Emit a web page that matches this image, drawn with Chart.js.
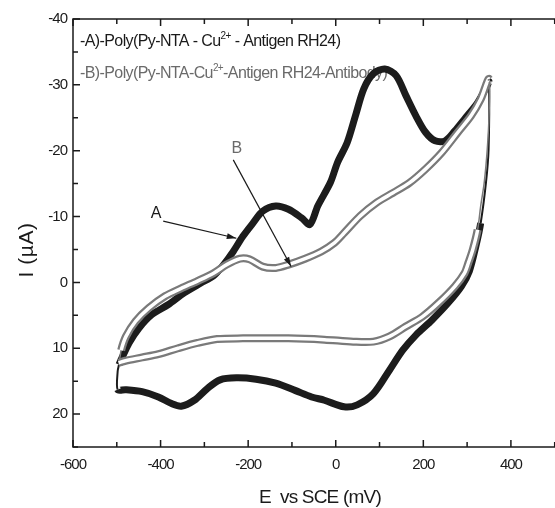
<!DOCTYPE html>
<html>
<head>
<meta charset="utf-8">
<script src="https://cdn.jsdelivr.net/npm/chart.js@4.4.1/dist/chart.umd.min.js"></script>
<style>
    html, body { margin: 0; padding: 0; background: #fff; overflow: hidden; }
    #wrap { width: 620px; height: 508px; }
</style>
</head>
<body>
<div id="wrap"><canvas id="cv" width="620" height="508"></canvas></div>
<script>
// curve A: Poly(Py-NTA - Cu2+ - Antigen RH24), forward then reverse sweep
const potentialA = [-495, -487, -472, -450, -420, -383, -346, -308, -279, -256, -234, -212, -189, -167, -137, -108, -78, -59, -41, -12, 4, 26, 45, 64, 86, 112, 138, 160, 183, 205, 227, 250, 272, 294, 324, 346,
    350, 349, 343, 331, 320, 305, 287, 257, 220, 183, 153, 123, 86, 49, 19, -26, -55, -93, -137, -182, -227, -264, -293, -323, -353, -375, -405, -442, -480, -498, -498, -495];
const currentA = [12.5, 11.3, 9.2, 7.0, 4.9, 3.4, 1.6, 0.1, -1.0, -2.7, -4.7, -7.0, -9.0, -10.8, -11.6, -11.1, -9.8, -8.8, -11.6, -15.2, -18.2, -21.2, -25.3, -29.4, -31.7, -32.4, -31.4, -28.4, -25.3, -22.8, -21.5, -21.5, -23.0, -24.8, -27.3, -29.9,
    -30.5, -20.2, -15.1, -9.0, -5.5, -1.7, 0.6, 3.1, 5.7, 8.0, 10.3, 13.3, 16.9, 18.6, 18.9, 17.9, 17.4, 16.4, 15.3, 14.7, 14.5, 14.8, 16.1, 17.9, 18.8, 18.4, 17.4, 16.6, 16.3, 16.3, 13.5, 12.5];

// curve B: Poly(Py-NTA-Cu2+-Antigen RH24-Antibody)
const potentialB = [-494, -490, -479, -457, -427, -390, -353, -316, -279, -249, -219, -197, -167, -137, -108, -70, -33, -3, 19, 56, 93, 131, 168, 205, 242, 279, 309, 331, 350,
    350, 346, 339, 331, 324, 313, 303, 294, 272, 235, 198, 160, 123, 86, 40, -26, -108, -212, -271, -316, -360, -405, -442, -480, -496];
const currentB = [12.0, 10.3, 8.2, 5.9, 3.9, 2.1, 0.9, -0.2, -1.4, -2.7, -3.6, -3.5, -2.4, -2.2, -2.7, -3.6, -4.7, -6.0, -7.5, -10.1, -12.1, -13.6, -15.1, -17.2, -19.7, -22.8, -25.3, -27.8, -30.9,
    -25.3, -20.2, -15.1, -11.6, -8.0, -5.0, -3.0, -1.4, 0.6, 3.1, 5.2, 6.7, 8.2, 9.0, 9.0, 8.7, 8.5, 8.5, 8.6, 9.2, 10.0, 10.9, 11.4, 11.9, 12.2];

// axes
const xMin = -600, xMax = 600, xStep = 100, xLabelEvery = 200;
const yMin = -40, yMax = 25, yStep = 5, yLabelEvery = 10;

// labels with arrows (data units)
const markNames = ['A', 'B'];
const markLabelE = [-410, -226];
const markLabelI = [-10.5, -20.3];
const arrowFromE = [-394, -234];
const arrowFromI = [-9.3, -18.6];
const arrowToE = [-227, -102];
const arrowToI = [-6.7, -2.4];

const FONT = "'Liberation Sans', Arial, sans-serif";
const INK = '#1a1a1a';
const GREY = '#6a6a6a';

function toPoints(xs, ys) {
    return xs.map((x, i) => ({x: x, y: ys[i]}));
}

// fast parts of the sweep (turning points) have few points in the original: draw them thin
function steep(c) {
    const dx = Math.abs(c.p1.x - c.p0.x), dy = Math.abs(c.p1.y - c.p0.y);
    return dx < 0.2 * dy;
}

const framePlugin = {
    id: 'frame',
    beforeDraw(chart) {
        chart.ctx.letterSpacing = '-1px';
    },
    beforeDatasetsDraw(chart) {
        const ctx = chart.ctx;
        ctx.save();
        ctx.letterSpacing = '-0.6px';
        ctx.textBaseline = 'alphabetic';
        ctx.textAlign = 'left';
        const rows = [
            {color: INK, x: 80, y: 46, parts: ['-A)-Poly(Py-NTA - Cu', '2+', ' - Antigen RH24)']},
            {color: GREY, x: 80, y: 78, parts: ['-B)-Poly(Py-NTA-Cu', '2+', '-Antigen RH24-Antibody)']}
        ];
        rows.forEach(r => {
            ctx.fillStyle = r.color;
            let x = r.x;
            r.parts.forEach((p, i) => {
                const sup = i === 1;
                ctx.font = (sup ? '10px ' : '16px ') + FONT;
                ctx.fillText(p, x, sup ? r.y - 7 : r.y);
                x += ctx.measureText(p).width;
            });
        });
        ctx.restore();
    },
    afterDraw(chart) {
        const ctx = chart.ctx;
        const a = chart.chartArea;
        const xs = chart.scales.x, ys = chart.scales.y;
        ctx.save();
        ctx.strokeStyle = INK;
        ctx.lineWidth = 1.5;
        ctx.strokeRect(a.left, a.top, a.right - a.left, a.bottom - a.top);
        ctx.beginPath();
        xs.ticks.forEach(t => {
            const px = xs.getPixelForValue(t.value);
            const len = t.value % xLabelEvery === 0 ? 7 : 5;
            ctx.moveTo(px, a.bottom); ctx.lineTo(px, a.bottom - len);
            ctx.moveTo(px, a.top); ctx.lineTo(px, a.top + len);
        });
        ys.ticks.forEach(t => {
            const py = ys.getPixelForValue(t.value);
            const len = t.value % yLabelEvery === 0 ? 7 : 5;
            ctx.moveTo(a.left, py); ctx.lineTo(a.left + len, py);
            ctx.moveTo(a.right, py); ctx.lineTo(a.right - len, py);
        });
        ctx.stroke();

        // axis titles
        ctx.fillStyle = INK;
        ctx.textAlign = 'center';
        ctx.textBaseline = 'middle';
        ctx.font = '19px ' + FONT;
        ctx.letterSpacing = '-0.8px';
        ctx.fillText('E  vs SCE (mV)', 320, 498);
        ctx.save();
        ctx.translate(27, 250);
        ctx.rotate(-Math.PI / 2);
        ctx.font = '21px ' + FONT;
        ctx.letterSpacing = '0.5px';
        ctx.fillText('I (µA)', 0, 0);
        ctx.restore();

        // labels A / B with arrows
        ctx.letterSpacing = '0px';
        ctx.font = '16px ' + FONT;
        ctx.lineWidth = 1.2;
        markNames.forEach((name, i) => {
            ctx.fillStyle = i === 0 ? INK : GREY;
            ctx.fillText(name, xs.getPixelForValue(markLabelE[i]), ys.getPixelForValue(markLabelI[i]));
            const x0 = xs.getPixelForValue(arrowFromE[i]), y0 = ys.getPixelForValue(arrowFromI[i]);
            const x1 = xs.getPixelForValue(arrowToE[i]), y1 = ys.getPixelForValue(arrowToI[i]);
            ctx.strokeStyle = INK;
            ctx.fillStyle = INK;
            ctx.beginPath();
            ctx.moveTo(x0, y0); ctx.lineTo(x1, y1);
            ctx.stroke();
            const ang = Math.atan2(y1 - y0, x1 - x0);
            ctx.beginPath();
            ctx.moveTo(x1, y1);
            ctx.lineTo(x1 - 10 * Math.cos(ang - 0.3), y1 - 10 * Math.sin(ang - 0.3));
            ctx.lineTo(x1 - 10 * Math.cos(ang + 0.3), y1 - 10 * Math.sin(ang + 0.3));
            ctx.closePath();
            ctx.fill();
        });
        ctx.restore();
    }
};

new Chart(document.getElementById('cv'), {
    type: 'scatter',
    data: {
        datasets: [
            {
                label: 'B inner',
                data: toPoints(potentialB, currentB),
                showLine: true,
                borderColor: '#ffffff',
                borderWidth: 3.5,
                pointRadius: 0,
                tension: 0.3,
                order: 0,
                segment: {borderColor: c => steep(c) ? 'rgba(255,255,255,0)' : '#ffffff'}
            },
            {
                label: 'B',
                data: toPoints(potentialB, currentB),
                showLine: true,
                borderColor: '#7a7a7a',
                borderWidth: 8,
                pointRadius: 0,
                tension: 0.3,
                order: 1,
                segment: {borderWidth: c => steep(c) ? 1.5 : 8}
            },
            {
                label: 'A',
                data: toPoints(potentialA, currentA),
                showLine: true,
                borderColor: '#1c1c1c',
                borderWidth: 7,
                pointRadius: 0,
                tension: 0.3,
                order: 2,
                segment: {borderWidth: c => steep(c) ? 2 : 7}
            }
        ]
    },
    options: {
        responsive: false,
        devicePixelRatio: 1,
        animation: false,
        layout: {padding: {left: 0, top: 19, right: 10, bottom: 0}},
        plugins: {legend: {display: false}, tooltip: {enabled: false}},
        scales: {
            x: {
                type: 'linear',
                min: xMin,
                max: xMax,
                grid: {display: false, drawTicks: false},
                border: {display: false},
                ticks: {
                    stepSize: xStep,
                    padding: 9,
                    color: INK,
                    font: {family: FONT, size: 15},
                    maxRotation: 0,
                    autoSkip: false,
                    callback: v => v % xLabelEvery === 0 ? String(v) : ''
                },
                afterFit: s => { s.height = 61; }
            },
            y: {
                type: 'linear',
                reverse: true,
                min: yMin,
                max: yMax,
                grid: {display: false, drawTicks: false},
                border: {display: false},
                ticks: {
                    stepSize: yStep,
                    padding: 6,
                    color: INK,
                    font: {family: FONT, size: 15},
                    autoSkip: false,
                    callback: v => v % yLabelEvery === 0 ? String(v) : ''
                },
                afterFit: s => { s.width = 73; }
            }
        }
    },
    plugins: [framePlugin]
});
</script>
</body>
</html>
